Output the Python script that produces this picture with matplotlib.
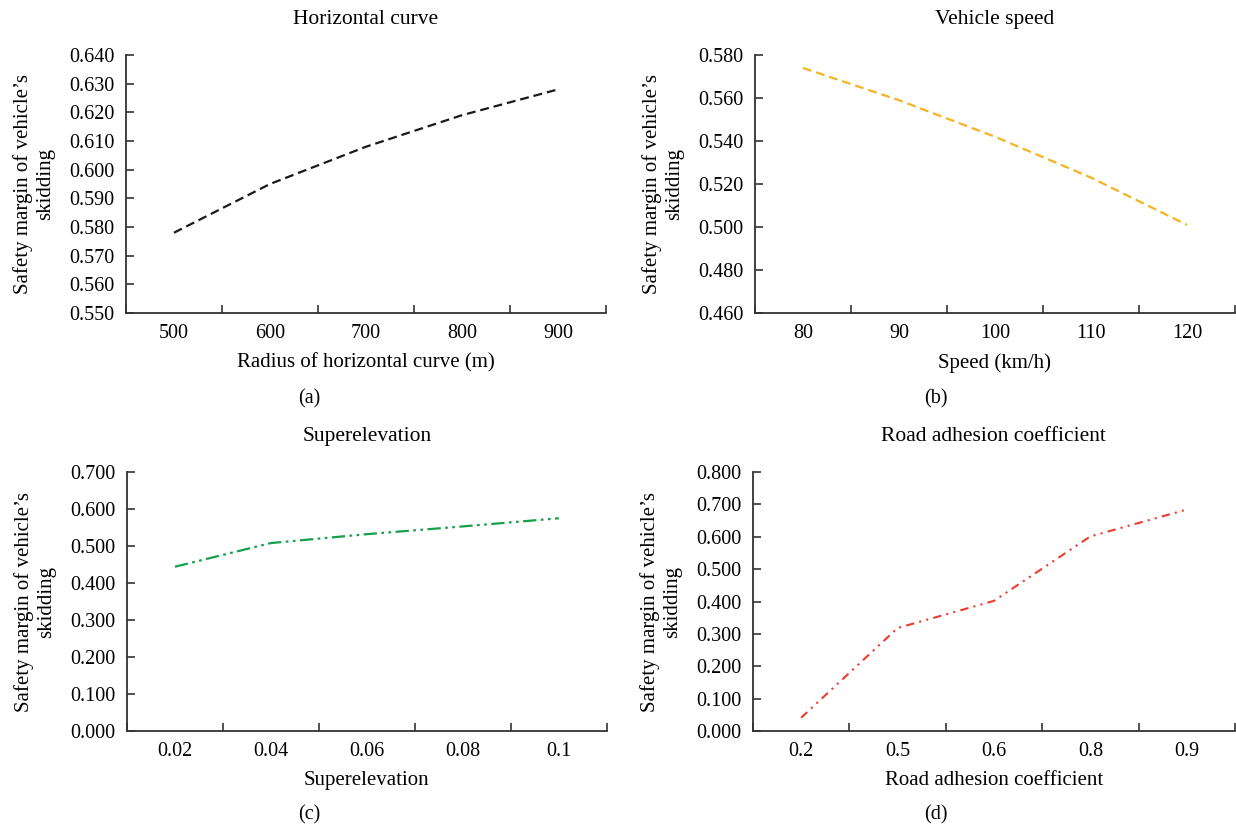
import matplotlib
matplotlib.use("Agg")
import matplotlib.pyplot as plt
import numpy as np

plt.rcParams["font.family"] = ["Liberation Serif", "DejaVu Serif"]
plt.rcParams["font.size"] = 14.5

# panel data: categories along x, safety margin along y
radius_labels = ["500", "600", "700", "800", "900"]
radius_margin = [0.578, 0.595, 0.608, 0.619, 0.628]

speed_labels = ["80", "90", "100", "110", "120"]
speed_margin = [0.574, 0.559, 0.542, 0.523, 0.501]

superelev_labels = ["0.02", "0.04", "0.06", "0.08", "0.1"]
superelev_margin = [0.444, 0.508, 0.532, 0.553, 0.575]

adhesion_labels = ["0.2", "0.5", "0.6", "0.8", "0.9"]
adhesion_margin = [0.041, 0.318, 0.402, 0.601, 0.684]

YLABEL = "Safety margin of vehicle\u2019s\nskidding"

panels = [
    dict(rect=[0.1019, 0.6229, 0.3883, 0.3108], title="Horizontal curve",
         xlabel="Radius of horizontal curve (m)", labels=radius_labels,
         values=radius_margin, ylim=(0.55, 0.64), step=0.01,
         color="#1a1a1a", ls=(0, (4, 2.2)), lw=1.6, tag="(a)", tagx=0.25, tagy=0.52),
    dict(rect=[0.6108, 0.6229, 0.3883, 0.3108], title="Vehicle speed",
         xlabel="Speed (km/h)", labels=speed_labels,
         values=speed_margin, ylim=(0.46, 0.58), step=0.02,
         color="#f5b324", ls=(0, (4, 2.2)), lw=1.6, tag="(b)", tagx=0.757, tagy=0.52),
    dict(rect=[0.1027, 0.1193, 0.3883, 0.3120], title="Superelevation",
         xlabel="Superelevation", labels=superelev_labels,
         values=superelev_margin, ylim=(0.0, 0.7), step=0.1,
         color="#16a04a", ls=(0, (6, 2, 1.2, 2, 1.2, 2)), lw=1.6, tag="(c)", tagx=0.25, tagy=0.018),
    dict(rect=[0.6092, 0.1193, 0.3899, 0.3120], title="Road adhesion coefficient",
         xlabel="Road adhesion coefficient", labels=adhesion_labels,
         values=adhesion_margin, ylim=(0.0, 0.8), step=0.1,
         color="#ec3b2b", ls=(0, (4, 2.5, 1, 2.5, 1, 2.5)), lw=1.5, tag="(d)", tagx=0.757, tagy=0.018),
]


def main():
    fig = plt.figure(figsize=(12.36, 8.3), dpi=100)

    for p in panels:
        ax = fig.add_axes(p["rect"])
        pos = np.arange(1, len(p["labels"]) + 1)
        ax.plot(pos, p["values"], color=p["color"], linestyle=p["ls"], linewidth=p["lw"])

        ax.set_xlim(0.5, len(pos) + 0.5)
        ax.set_ylim(*p["ylim"])
        ax.set_yticks(np.arange(p["ylim"][0], p["ylim"][1] + p["step"] / 2, p["step"]))
        ax.yaxis.set_major_formatter(matplotlib.ticker.FormatStrFormatter("%.3f"))

        # labels sit at category centres, tick marks at category boundaries
        ax.set_xticks(pos, p["labels"])
        ax.set_xticks(np.arange(0.5, len(pos) + 1), minor=True)
        ax.tick_params(axis="x", which="major", length=0, pad=8, labelsize=14.5)
        ax.tick_params(axis="x", which="minor", direction="in", length=6, width=1.2, color="#333333")
        ax.tick_params(axis="y", direction="in", length=6, width=1.2, color="#333333", pad=8,
                       labelsize=14.5)

        for side in ["top", "right"]:
            ax.spines[side].set_visible(False)
        for side in ["left", "bottom"]:
            ax.spines[side].set_linewidth(1.3)
            ax.spines[side].set_color("#333333")

        ax.set_title(p["title"], pad=22, fontsize=15.5)
        ax.set_xlabel(p["xlabel"], labelpad=7, fontsize=15)
        ax.set_ylabel(YLABEL, linespacing=1.2, fontsize=15)
        ax.yaxis.set_label_coords(-0.148, 0.5)

        fig.text(p["tagx"], p["tagy"], p["tag"], ha="center", va="center", fontsize=14.5)

    fig.savefig("out.png", dpi=100)


if __name__ == "__main__":
    main()
